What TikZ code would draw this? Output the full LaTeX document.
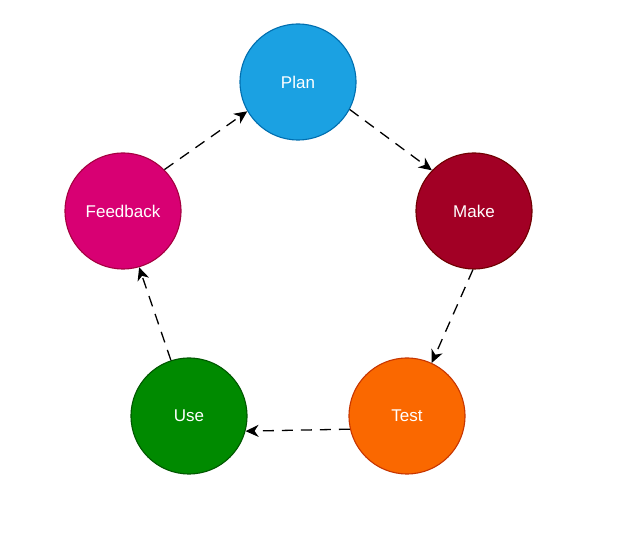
\documentclass[tikz,border=0pt]{standalone}
\usepackage{fontspec}
\setmainfont{Liberation Sans}
\usepackage{tikz}
\usetikzlibrary{arrows.meta}

\definecolor{planfill}{HTML}{1BA1E2}
\definecolor{planline}{HTML}{006EAF}
\definecolor{makefill}{HTML}{A20025}
\definecolor{makeline}{HTML}{6F0000}
\definecolor{testfill}{HTML}{FA6800}
\definecolor{testline}{HTML}{C73500}
\definecolor{usefill}{HTML}{008A00}
\definecolor{useline}{HTML}{005700}
\definecolor{feedfill}{HTML}{D80073}
\definecolor{feedline}{HTML}{A50040}

\begin{document}
\begin{tikzpicture}[
  x=1pt, y=-1pt,
  stage/.style={
    circle, draw, line width=1.1pt,
    minimum size=116pt, inner sep=0pt,
    text=white, font=\fontsize{17}{20}\selectfont
  },
  arrow/.style={-{Stealth[length=13pt, width=12pt, inset=4pt]},
    line width=1.3pt, dash pattern=on 11pt off 8pt}
]
\useasboundingbox (0,0) rectangle (633,534);

% Circles
\node[stage, fill=planfill, draw=planline] (plan) at (298,82) {Plan};
\node[stage, fill=makefill, draw=makeline] (make) at (474,211) {Make};
\node[stage, fill=testfill, draw=testline] (test) at (407,416) {Test};
\node[stage, fill=usefill, draw=useline] (use) at (189,416) {Use};
\node[stage, fill=feedfill, draw=feedline] (feedback) at (123,211) {Feedback};

% Arrows
\draw[arrow] (plan.-28) -- (make.136);
\draw[arrow] (make.-91) -- (test.65);
\draw[arrow] (test.193) -- (use.-15);
\draw[arrow] (use.108) -- (feedback.-74);
\draw[arrow] (feedback.45) -- (plan.210);

\end{tikzpicture}
\end{document}
